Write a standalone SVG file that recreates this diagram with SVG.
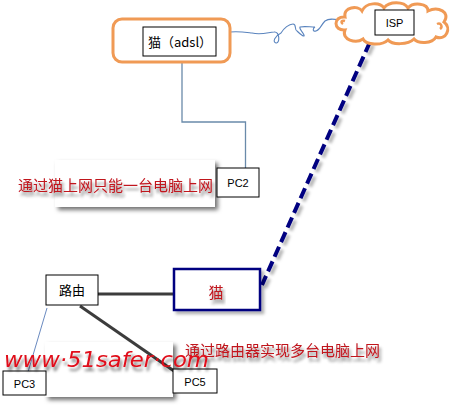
<svg xmlns="http://www.w3.org/2000/svg" width="452" height="405" viewBox="0 0 452 405">
<style>
.box{fill:#fff;stroke:#000;stroke-width:1}
.lbl{font-family:"Liberation Sans","DejaVu Sans",sans-serif;font-size:11px;fill:#000;text-anchor:middle}
.cn{font-family:"Noto Sans CJK SC",sans-serif;fill:#000}
.red{font-family:"Noto Sans CJK SC",sans-serif;fill:#C0141C;font-size:15px}
.panel{fill:#fff;filter:url(#psh)}
</style>
<defs>
<filter id="psh" x="-10%" y="-20%" width="130%" height="150%">
<feGaussianBlur in="SourceAlpha" stdDeviation="2"/>
<feOffset dx="3" dy="3" result="b"/>
<feFlood flood-color="#000" flood-opacity="0.55"/>
<feComposite in2="b" operator="in"/>
<feMerge><feMergeNode/><feMergeNode in="SourceGraphic"/></feMerge>
</filter>
<filter id="tsh" x="-10%" y="-30%" width="120%" height="190%">
<feGaussianBlur in="SourceAlpha" stdDeviation="1.6"/>
<feOffset dx="2" dy="4" result="b"/>
<feFlood flood-color="#000" flood-opacity="0.5"/>
<feComposite in2="b" operator="in"/>
<feMerge><feMergeNode/><feMergeNode in="SourceGraphic"/></feMerge>
</filter>
<filter id="lsh" x="-20%" y="-20%" width="140%" height="140%">
<feGaussianBlur in="SourceAlpha" stdDeviation="1.5"/>
<feOffset dx="3" dy="3" result="b"/>
<feFlood flood-color="#000" flood-opacity="0.3"/>
<feComposite in2="b" operator="in"/>
<feMerge><feMergeNode/><feMergeNode in="SourceGraphic"/></feMerge>
</filter>
</defs>
<rect width="452" height="405" fill="#fff"/>

<g id="panels">
<rect class="panel" x="55" y="160" width="160" height="47"/>
<rect class="panel" x="45" y="342" width="128" height="55"/>
</g>

<g id="connectors" fill="none">
<path d="M182,62 V122 H245.5 V168" stroke="#6A8AAA" stroke-width="1.3"/>
<path d="M230,32 C238,31 244,32 252,33 C260,35 266,33 274,32 C280,31 280,44 276,43 C272,42 275,36 281,33 C284,28 289,24 293,24 C297,24 294,30 297,31 C300,34 305,38 304,35 C302,31 299,29 300,27 C304,26 310,27 315,27 C313,28 312,32 316,31 C320,30 321,25 325,21 C329,18 334,19 340,20" stroke="#5A84BE" stroke-width="1.1"/>
<path d="M370,42 L262,285" stroke="#000080" stroke-width="4" stroke-dasharray="11,5" filter="url(#lsh)"/>
<path d="M98,294 H173" stroke="#3C3C3C" stroke-width="3"/>
<path d="M80,306 L174,371" stroke="#3C3C3C" stroke-width="3"/>
<path d="M47,308 L28,372" stroke="#6A8AC0" stroke-width="1"/>
</g>

<g id="modem-adsl">
<rect x="113" y="19" width="117" height="43" rx="9" fill="#fff" stroke="#F09A55" stroke-width="3"/>
<rect class="box" x="143" y="27" width="73" height="29"/>
<text class="cn" x="180" y="47" font-size="13" text-anchor="middle">猫（adsl）</text>
</g>

<g id="isp">
<path d="M345,30 C333,31 333,16 345,17 C343,7 358,5 362,11 C366,2 380,2 384,8 C389,1 404,1 408,8 C413,2 428,3 428,11 C438,6 451,12 444,22 C452,28 446,41 436,37 C432,44 418,44 414,39 C408,45 392,45 388,40 C382,46 366,45 363,39 C356,44 341,40 345,30 Z" fill="#fff" stroke="#F09A55" stroke-width="3"/>
<path d="M343,24 C340,22 342,20 345,21 M437,24 C441,22 443,27 440,29" fill="none" stroke="#F09A55" stroke-width="2.5"/>
<rect class="box" x="375" y="10" width="39" height="25"/>
<text class="lbl" x="394.5" y="27">ISP</text>
</g>

<g id="pc2">
<rect class="box" x="217" y="168" width="42" height="29"/>
<text class="lbl" x="238" y="187">PC2</text>
</g>

<g id="note1">
<text class="red" x="18" y="191" filter="url(#tsh)">通过猫上网只能一台电脑上网</text>
</g>

<g id="router">
<rect class="box" x="46" y="275" width="52" height="30"/>
<text class="cn" x="72" y="295" font-size="13" text-anchor="middle">路由</text>
</g>

<g id="modem">
<rect x="174" y="269" width="86" height="41" fill="#fff" stroke="#000080" stroke-width="2.5" filter="url(#lsh)"/>
<text class="red" x="216" y="298" font-size="14" text-anchor="middle" filter="url(#tsh)">猫</text>
</g>

<g id="note2">
<text class="red" x="185" y="356" filter="url(#tsh)">通过路由器实现多台电脑上网</text>
</g>

<g id="pc3">
<rect class="box" x="3" y="371" width="43" height="24"/>
<text class="lbl" x="24.5" y="388">PC3</text>
</g>

<g id="pc5">
<rect class="box" x="173" y="369" width="44" height="24"/>
<text class="lbl" x="195" y="386">PC5</text>
</g>

<g id="watermark">
<text x="4" y="367" font-family="'DejaVu Sans','Liberation Sans',sans-serif" font-style="italic" font-size="21" fill="#E0101A" textLength="205" lengthAdjust="spacingAndGlyphs" filter="url(#tsh)">www·51safer·com</text>
</g>
</svg>
